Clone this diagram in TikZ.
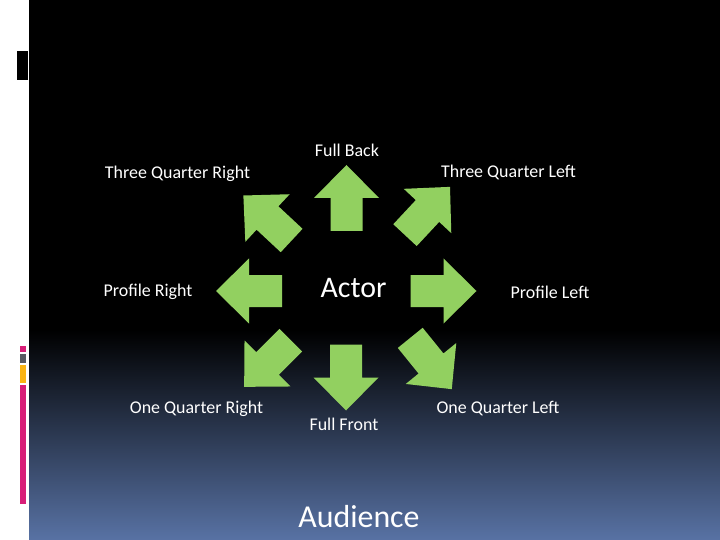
\documentclass[tikz,border=0pt]{standalone}
\usepackage{fontspec}
\setmainfont{Carlito}
\definecolor{cgreen}{RGB}{146,208,96}
\definecolor{cpink}{RGB}{216,30,120}
\definecolor{cgray}{RGB}{88,90,98}
\definecolor{corange}{RGB}{250,180,20}
\definecolor{cblue}{RGB}{88,114,164}
\tikzset{stage/.style={x=1bp,y=-1bp},
  lbl/.style={text=white,anchor=base,inner sep=0pt,font=\fontsize{18}{20}\selectfont},
  big/.style={lbl,font=\fontsize{30}{34}\selectfont}}

\begin{document}
\begin{tikzpicture}[stage]
    \useasboundingbox (0,0) rectangle (720,540);
    \fill[white] (0,0) rectangle (29,540);
    \fill[black] (29,0) rectangle (720,331);
    \shade[top color=black,bottom color=cblue] (29,330) rectangle (720,540);
    \fill[black] (17,51) rectangle (28,80);
    \fill[cpink]   (20,346) rectangle (26,352);
    \fill[cgray]   (20,354) rectangle (26,363);
    \fill[corange] (20,365) rectangle (26,383);
    \fill[cpink]   (20,385) rectangle (26,504);
    \foreach \x/\y/\a in {346.5/198/90, 346/377.5/-90, 249/291/180, 443.5/291/0,
        267.5/218/137, 427.5/211/47, 267.5/363.5/-135, 431/363.5/-51}
      \fill[cgreen,shift={(\x,\y)},rotate=\a]
        (-33,-16) -- (0,-16) -- (0,-32.5) -- (33,0) -- (0,32.5) -- (0,16) -- (-33,16) -- cycle;
    \node[lbl] (back)  at (347,157)   {Full Back};
    \node[lbl] (tqr)   at (177.5,179) {Three Quarter Right};
    \node[lbl] (tql)   at (508.5,178) {Three Quarter Left};
    \node[lbl] (pr)    at (148,296)   {Profile Right};
    \node[lbl] (pl)    at (550,298)   {Profile Left};
    \node[lbl] (oqr)   at (196.5,413) {One Quarter Right};
    \node[lbl] (front) at (344,430)   {Full Front};
    \node[lbl] (oql)   at (498,413)   {One Quarter Left};
    \node[big] (actor) at (353.5,297) {Actor};
    \node[big,font=\fontsize{32}{36}\selectfont] (aud) at (359,527) {Audience};
  \end{tikzpicture}
\end{document}
